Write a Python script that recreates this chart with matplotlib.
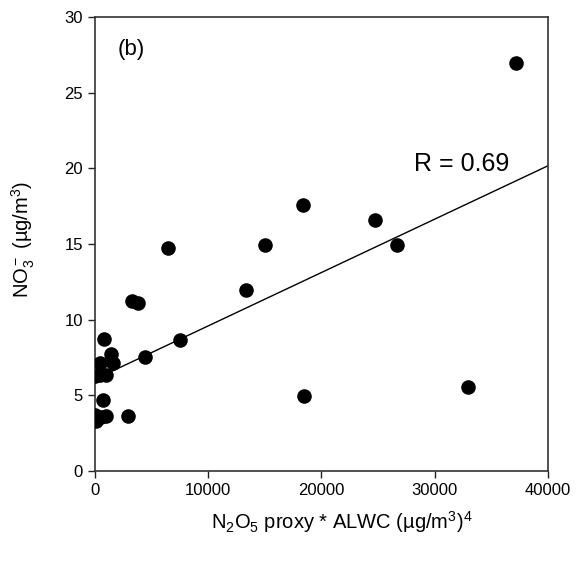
import numpy as np
import matplotlib
matplotlib.use("Agg")
import matplotlib.pyplot as plt

plt.rcParams['font.family'] = ['Liberation Sans', 'DejaVu Sans']
plt.rcParams['mathtext.fontset'] = 'custom'
plt.rcParams['mathtext.rm'] = 'Liberation Sans'
plt.rcParams['mathtext.it'] = 'Liberation Sans'

# N2O5 proxy * ALWC values
x_proxy = [37150, 18380, 24700, 26650, 18470, 32910,
           6500, 15030, 13350, 7530,
           3300, 3830, 4440,
           850, 1470, 1610, 440,
           0, 440, 1020,
           730, 60, 580, 1020, 2940, 20, 150]
# NO3- concentrations
y_no3 = [27.0, 17.55, 16.57, 14.96, 4.92, 5.54,
         14.76, 14.92, 11.98, 8.62,
         11.2, 11.1, 7.5,
         8.74, 7.72, 7.1, 7.1,
         6.27, 6.33, 6.33,
         4.67, 3.69, 3.57, 3.64, 3.64, 3.45, 3.3]

x_ticks = [0, 10000, 20000, 30000, 40000]
y_ticks = [0, 5, 10, 15, 20, 25, 30]
r_label = "R = 0.69"
panel_label = "(b)"

fig = plt.figure(figsize=(5.76, 5.63), dpi=100)
ax = fig.add_axes([0.1644, 0.1639, 0.9514 - 0.1644, 0.9693 - 0.1639])

ax.scatter(x_proxy, y_no3, s=110, color='black', zorder=3, linewidths=0)

xa = np.array(x_proxy, dtype=float)
ya = np.array(y_no3, dtype=float)
slope, intercept = np.polyfit(xa, ya, 1)
xl = np.array([xa.min(), 40000.0])
ax.plot(xl, intercept + slope * xl, color='black', lw=1.0, zorder=2)

ax.set_xlim(0, 40000)
ax.set_ylim(0, 30)
ax.set_xticks(x_ticks)
ax.set_yticks(y_ticks)
ax.set_xticklabels([str(v) for v in x_ticks])
ax.set_yticklabels([str(v) for v in y_ticks])
ax.tick_params(direction='out', length=5, width=1, labelsize=12, colors='#222222')
ax.tick_params(axis='both', labelcolor='black')
for sp in ax.spines.values():
    sp.set_linewidth(1.2)
    sp.set_color('#333333')

ax.set_xlabel(r'N$_2$O$_5$ proxy * ALWC (µg/m$^3$)$^4$', fontsize=14.5)
ax.xaxis.set_label_coords(0.5455, -0.085)
ax.set_ylabel(r'NO$_3^-$ (µg/m$^3$)', fontsize=14.5)
ax.yaxis.set_label_coords(-0.128, 0.51)

ax.text(0.05, 0.93, panel_label, transform=ax.transAxes, fontsize=16,
        ha='left', va='center')
ax.text(0.81, 0.676, r_label, transform=ax.transAxes, fontsize=18,
        ha='center', va='center')

fig.savefig("out.png", dpi=100)
